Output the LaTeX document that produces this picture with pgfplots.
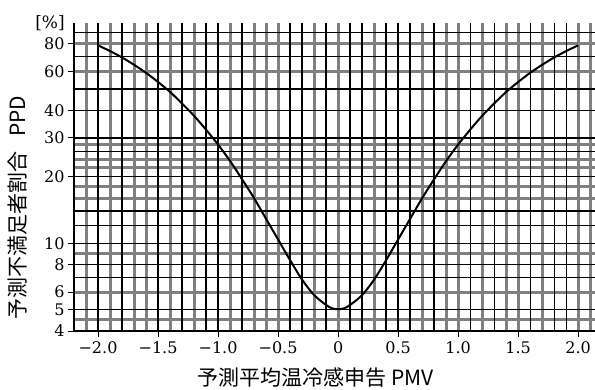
\documentclass[border=0pt]{standalone}
\usepackage{pgfplots}
\pgfplotsset{compat=1.18}
\usepackage{pgfplotstable}
\usepackage{fontspec}
\setmainfont{DejaVu Serif}
\newfontfamily\tickfont{DejaVu Serif}
\newfontfamily\jp{Noto Sans CJK JP}

\pgfplotstableread{
x y
-2.0 78.9
-1.9 74.3
-1.8 69.5
-1.7 64.4
-1.6 59.2
-1.5 53.8
-1.4 48.5
-1.3 43.0
-1.2 37.8
-1.1 32.7
-1.0 28.0
-0.9 23.6
-0.8 19.5
-0.7 16.0
-0.6 12.9
-0.5 10.4
-0.4 8.38
-0.3 6.84
-0.2 5.82
-0.1 5.25
-0.05 5.07
0.0 5.02
0.05 5.07
0.1 5.25
0.2 5.82
0.3 6.84
0.4 8.38
0.5 10.4
0.6 12.9
0.7 16.0
0.8 19.5
0.9 23.6
1.0 28.0
1.1 32.7
1.2 37.8
1.3 43.0
1.4 48.5
1.5 53.8
1.6 59.2
1.7 64.4
1.8 69.5
1.9 74.3
2.0 78.9
}\ppd

\begin{document}
\begin{tikzpicture}
\begin{axis}[
  width=521pt, height=308.4pt, scale only axis,
  ymode=log,
  xmin=-2.2, xmax=2.14, ymin=4, ymax=100,
  axis x line*=bottom, axis y line*=left,
  axis line style={-, black, line width=1.6pt},
  xtick={-2,-1.5,-1,-0.5,0,0.5,1,1.5,2},
  xticklabels={−2.0,−1.5,−1.0,−0.5,0,0.5,1.0,1.5,2.0},
  ytick={4,5,6,8,10,20,30,40,60,80},
  yticklabels={4,5,6,8,10,20,30,40,60,80},
  minor xtick={-2.1,-1.9,-1.7,-1.6,-1.4,-1.2,-0.9,-0.7,-0.6,-0.5,-0.2,0,0.3,0.7,0.9,1.0,1.2,1.4,1.5,1.7,2.0,2.1},
  minor ytick={4.5,6,9,16,18,22,24,28,60,80},
  extra x ticks={-2.0,-1.8,-1.5,-1.3,-1.1,-1.0,-0.8,-0.4,-0.3,-0.1,0.1,0.2,0.4,0.5,0.6,0.8,1.1,1.3,1.6,1.8,1.9},
  extra x tick labels={},
  extra x tick style={grid=major, major grid style={black, line width=1.3pt}, major tick length=0pt},
  extra y ticks={5,7,8,10,12,14,20,26,30,40,50,70,90},
  extra y tick labels={},
  extra y tick style={grid=major, major grid style={black, line width=1.3pt}, major tick length=0pt},
  grid=minor,
  minor grid style={black!50, line width=3pt},
  tick align=outside,
  major tick length=6pt,
  minor tick length=0pt,
  tick style={black, line width=1pt},
  ticklabel style={font=\tickfont\fontsize{16}{16}\selectfont},
  xticklabel style={yshift=-1pt},
  xlabel={予測平均温冷感申告 PMV},
  xlabel style={at={(axis description cs:0.4645,-0.152)}, anchor=center, font=\jp\fontsize{21}{21}\selectfont},
  ylabel={予測不満足者割合\hspace{0.7em}PPD},
  ylabel style={at={(axis description cs:-0.1075,0.40)}, anchor=center, font=\jp\fontsize{21}{21}\selectfont},
]
\addplot[black, line width=2pt, smooth] table[x=x, y=y] {\ppd};
\end{axis}
\node[font=\tickfont\fontsize{17}{17}\selectfont] at ([shift={(-24pt,-1pt)}]current axis.north west) {[\%]};
\pgfresetboundingbox
\path ([shift={(-74pt,-58pt)}]current axis.south west) rectangle ([shift={(0pt,22.6pt)}]current axis.north east);
\end{tikzpicture}
\end{document}
